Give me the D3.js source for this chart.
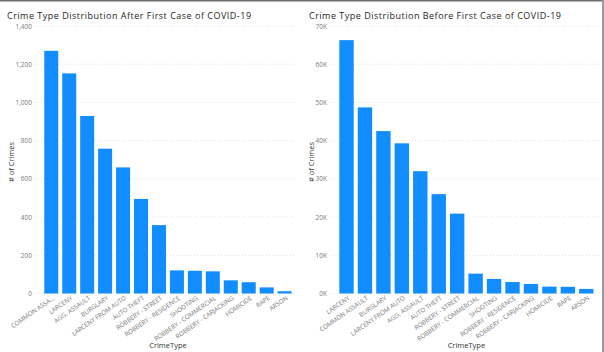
<!DOCTYPE html>
<html><head><meta charset="utf-8">
<script src="https://cdn.jsdelivr.net/npm/d3@7"></script>
<style>
html,body{margin:0;padding:0;background:#fff;}
svg{display:block;}
</style></head>
<body>
<svg id="c" width="604" height="352"></svg>
<script>
// ---- Data ----
const afterCategories = ["COMMON ASSAULT","LARCENY","AGG. ASSAULT","BURGLARY","LARCENY FROM AUTO","AUTO THEFT","ROBBERY - STREET","ROBBERY - RESIDENCE","SHOOTING","ROBBERY - COMMERCIAL","ROBBERY - CARJACKING","HOMICIDE","RAPE","ARSON"];
const afterValues = [1270, 1152, 929, 758, 660, 495, 358, 121, 119, 116, 69, 59, 32, 12];
const afterTicks = [0, 200, 400, 600, 800, 1000, 1200, 1400];

const beforeCategories = ["LARCENY","COMMON ASSAULT","BURGLARY","LARCENY FROM AUTO","AGG. ASSAULT","AUTO THEFT","ROBBERY - STREET","ROBBERY - COMMERCIAL","SHOOTING","ROBBERY - RESIDENCE","ROBBERY - CARJACKING","HOMICIDE","RAPE","ARSON"];
const beforeValues = [66300, 48700, 42500, 39300, 32000, 26000, 20900, 5200, 3800, 3000, 2500, 1800, 1750, 1200];
const beforeTicks = [0, 10000, 20000, 30000, 40000, 50000, 60000, 70000];

const svg = d3.select("#c");
const FONT = "'Open Sans', 'Noto Sans', sans-serif";

// frame
svg.append("rect").attr("x",0).attr("y",0).attr("width",604).attr("height",1.5).attr("fill","#6e6e6e");
svg.append("rect").attr("x",602).attr("y",0).attr("width",2).attr("height",352).attr("fill","#9a9a9a");

function drawChart(cfg){
  const g = svg.append("g");
  const x = d3.scaleBand().domain(cfg.categories).range(cfg.xRange).paddingInner(0.22).paddingOuter(0.11);
  const y = d3.scaleLinear().domain([0, cfg.max]).range([293.5, 26]);

  // title
  g.append("text").attr("x", cfg.titleX).attr("y", 18.5)
    .attr("font-family", FONT).attr("font-size", 9).attr("letter-spacing", 0.5)
    .attr("fill", "#252423")
    .text(cfg.title);

  // gridlines
  g.selectAll("line.grid").data(cfg.ticks).join("line")
    .attr("x1", cfg.gridX[0]).attr("x2", cfg.gridX[1])
    .attr("y1", d => y(d)).attr("y2", d => y(d))
    .attr("stroke", "#d9d9d9").attr("stroke-width", 0.8).attr("stroke-dasharray", "1,2");

  // y axis labels
  const yAxis = d3.axisLeft(y).tickValues(cfg.ticks).tickFormat(cfg.fmt).tickSize(0).tickPadding(0);
  const ya = g.append("g").attr("transform", `translate(${cfg.yLabelX},0)`).call(yAxis);
  ya.select(".domain").remove();
  ya.selectAll("text").attr("font-family", FONT).attr("font-size", 6.5).attr("fill", "#7a7a7a");

  // bars
  g.selectAll("rect.bar").data(cfg.values).join("rect")
    .attr("x", (d,i) => x(cfg.categories[i]))
    .attr("width", x.bandwidth())
    .attr("y", d => y(d))
    .attr("height", d => y(0) - y(d))
    .attr("fill", "#118DFF");

  // x axis labels
  const xAxis = d3.axisBottom(x).tickSize(0).tickPadding(0)
    .tickFormat((d, i) => (cfg.truncateFirst && i === 0) ? d.slice(0, 11) + "..." : d);
  const xa = g.append("g").attr("transform", `translate(0,${297})`).call(xAxis);
  xa.select(".domain").remove();
  xa.selectAll("text")
    .attr("font-family", FONT).attr("font-size", 6.3).attr("fill", "#7a7a7a")
    .attr("text-anchor", "end").attr("dy", "0.6em").attr("dx", "0.3em")
    .attr("transform", "rotate(-35)");

  // axis titles
  const plotCenter = (cfg.xRange[0] + cfg.xRange[1]) / 2;
  g.append("text").attr("x", plotCenter).attr("y", 348)
    .attr("text-anchor", "middle").attr("font-family", FONT).attr("font-size", 7.5).attr("fill", "#333")
    .text("CrimeType");
  g.append("text").attr("transform", `translate(${cfg.yTitleX},162) rotate(-90)`)
    .attr("text-anchor", "middle").attr("font-family", FONT).attr("font-size", 7.5).attr("fill", "#333")
    .text("# of Crimes");
}

drawChart({
  title: "Crime Type Distribution After First Case of COVID-19",
  titleX: 7,
  categories: afterCategories, values: afterValues, ticks: afterTicks, max: 1400,
  fmt: d3.format(","),
  xRange: [42.3, 293.6], gridX: [35, 296], yLabelX: 32, yTitleX: 14,
  truncateFirst: true
});

drawChart({
  title: "Crime Type Distribution Before First Case of COVID-19",
  titleX: 309,
  categories: beforeCategories, values: beforeValues, ticks: beforeTicks, max: 70000,
  fmt: d => (d/1000) + "K",
  xRange: [337.3, 595.5], gridX: [331, 600], yLabelX: 327, yTitleX: 314,
  truncateFirst: false
});
</script>
</body></html>
